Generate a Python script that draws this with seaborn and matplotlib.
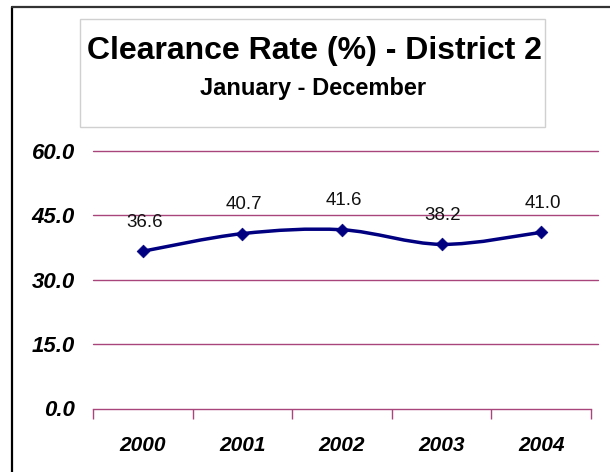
import matplotlib
matplotlib.use("Agg")
import matplotlib.pyplot as plt
from matplotlib.path import Path
from matplotlib.patches import PathPatch, Rectangle
from matplotlib.lines import Line2D
import seaborn as sns
import numpy as np
import pandas as pd

# Chart data
years = ["2000", "2001", "2002", "2003", "2004"]
clearance_rate = [36.6, 40.7, 41.6, 38.2, 41.0]
y_ticks = [0.0, 15.0, 30.0, 45.0, 60.0]

title = "Clearance Rate (%) - District 2"
subtitle = "January - December"

sns.set_theme(style="white")
plt.rcParams["font.family"] = ["Liberation Sans", "DejaVu Sans"]

GRID = "#A8467C"
NAVY = "#000080"

fig = plt.figure(figsize=(6.10, 4.72), dpi=100)
fig.patch.set_facecolor("white")

# plot area
ax = fig.add_axes([93 / 610, 63.5 / 472, 505 / 610, 257.8 / 472])
ax.set_facecolor("white")

df = pd.DataFrame({"year": years, "rate": clearance_rate})
xpos = np.arange(len(years))

# smoothed connecting line (cubic Bezier segments through the data points)
pts = np.column_stack([xpos, df["rate"].to_numpy(dtype=float)])
ext = np.vstack([pts[0], pts, pts[-1]])
verts = [tuple(pts[0])]
codes = [Path.MOVETO]
for i in range(len(pts) - 1):
    p0, p1, p2, p3 = ext[i], ext[i + 1], ext[i + 2], ext[i + 3]
    c1 = p1 + (p2 - p0) / 6.0
    c2 = p2 - (p3 - p1) / 6.0
    verts += [tuple(c1), tuple(c2), tuple(p2)]
    codes += [Path.CURVE4, Path.CURVE4, Path.CURVE4]
ax.add_patch(PathPatch(Path(verts, codes), facecolor="none", edgecolor=NAVY,
                       lw=2.5, zorder=3, capstyle="round", joinstyle="round"))

sns.scatterplot(x=xpos, y=df["rate"], marker="D", s=42, color=NAVY,
                edgecolor=NAVY, linewidth=0.5, ax=ax, zorder=4, legend=False)

for x, v in zip(xpos, clearance_rate):
    ax.annotate(f"{v:.1f}", (x, v), xytext=(1, 21), textcoords="offset points",
                ha="center", va="center", fontsize=13.5, color="#111111")

ax.set_xlim(-0.5, 4.57)
ax.set_ylim(0, 60)
ax.set_yticks(y_ticks)
ax.set_yticklabels([f"{t:.1f}" for t in y_ticks], fontsize=16,
                   fontweight="bold", fontstyle="italic")
ax.set_xticks(xpos)
ax.set_xticklabels(years, fontsize=15, fontweight="bold", fontstyle="italic")
ax.set_xlabel("")
ax.set_ylabel("")

# horizontal gridlines
for t in y_ticks[1:]:
    ax.axhline(t, color=GRID, lw=1.0, zorder=1, clip_on=False)

for side in ["left", "right", "top"]:
    ax.spines[side].set_visible(False)
ax.spines["bottom"].set_color(GRID)
ax.spines["bottom"].set_linewidth(1.0)
ax.spines["bottom"].set_bounds(-0.5, 4.5)

ax.tick_params(axis="y", length=0, pad=13, colors="black")
ax.tick_params(axis="x", which="major", length=0, pad=20, colors="black")
ax.set_xticks(np.arange(-0.5, 5.0, 1.0), minor=True)
ax.tick_params(axis="x", which="minor", bottom=True, length=7, width=1.0,
               color=GRID, direction="out")

# title box
fig.patches.append(Rectangle((80 / 610, 1 - 127 / 472), 465 / 610, 108 / 472,
                             transform=fig.transFigure, facecolor="white",
                             edgecolor="#D0D0D0", lw=1.0))
fig.text(314 / 610, 1 - 51 / 472, title, ha="center", va="center",
         fontsize=23, fontweight="bold", color="black")
fig.text(313 / 610, 1 - 88 / 472, subtitle, ha="center", va="center",
         fontsize=17, fontweight="bold", color="black")

# frame edges
fig.add_artist(Line2D([12 / 610, 12 / 610], [0, 1 - 7 / 472],
                      transform=fig.transFigure, color="black", lw=1.6))
fig.add_artist(Line2D([12 / 610, 1], [1 - 7 / 472, 1 - 7 / 472],
                      transform=fig.transFigure, color="#333333", lw=1.6))

fig.savefig("out.png", dpi=100, facecolor="white")
